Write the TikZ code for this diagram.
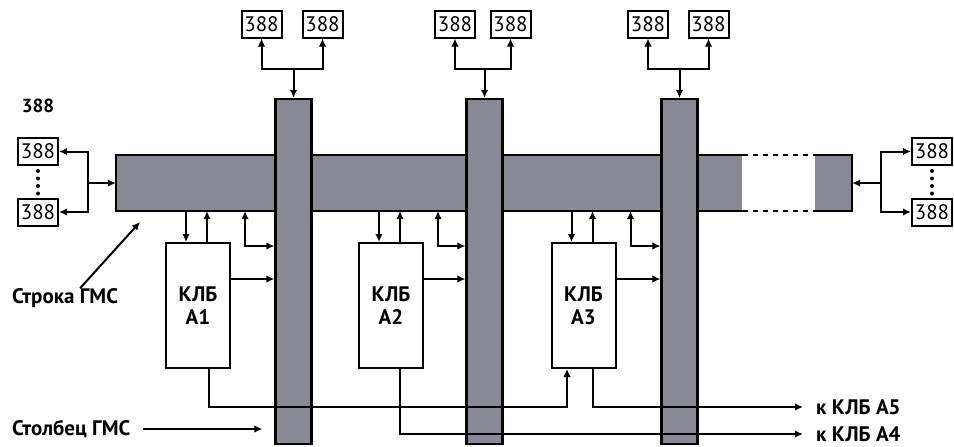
\documentclass[tikz,border=0pt]{standalone}
\usepackage{fontspec}
\setmainfont{PT Sans}
\usetikzlibrary{positioning}
\usetikzlibrary{arrows.meta}
\usetikzlibrary{calc}
\definecolor{gmsGris}{RGB}{136,137,147}
\tikzset{
  bus/.style={
    rectangle, fill=gmsGris, draw=black, line width=2.2pt, inner sep=0pt
  },
  klb/.style={
    rectangle, draw=black, fill=white, line width=2pt,
    minimum width=64pt, minimum height=125pt, align=center,
    font=\bfseries\fontsize{21}{23}\selectfont, inner sep=0pt
  },
  evv/.style={
    rectangle, draw=black, fill=white, line width=2pt,
    minimum width=40pt, minimum height=27pt, inner sep=0pt,
    font=\fontsize{21}{21}\selectfont
  },
  etiq/.style={font=\bfseries\fontsize{21}{23}\selectfont, inner sep=0pt},
  linea/.style={line width=2.2pt},
  flecha/.style={-{Latex[length=8pt,width=7.5pt]}, line width=2pt},
  flechad/.style={{Latex[length=8pt,width=7.5pt]}-{Latex[length=8pt,width=7.5pt]}, line width=2pt}
}

\begin{document}
\begin{tikzpicture}[x=1pt,y=-1pt]
  \useasboundingbox (0,0) rectangle (954,447);
  % строка ГМС
  \node[bus, draw=none, minimum width=625pt, minimum height=54pt] (fila) at (429.5,183) {};
  \node[bus, draw=none, minimum width=36pt, minimum height=54pt] (filab) at (833,183) {};
  \draw[linea] (fila.north east) -- (fila.north west) -- (fila.south west) -- (fila.south east);
  \draw[linea, dash pattern=on 5pt off 5pt] (fila.north east) -- (filab.north west);
  \draw[linea, dash pattern=on 5pt off 5pt] (fila.south east) -- (filab.south west);
  \draw[linea] (filab.north west) -- (filab.north east) -- (filab.south east) -- (filab.south west);
  % столбцы ГМС
  \node[bus, minimum width=36pt, minimum height=345pt] (col1) at (293.5,271.5) {};
  \node[bus, minimum width=36pt, minimum height=345pt] (col2) at (484.5,271.5) {};
  \node[bus, minimum width=36pt, minimum height=345pt] (col3) at (679.5,271.5) {};
  % верхние 388
  \node[evv] (e1a) at (261.5,24) {388};
  \node[evv] (e1b) at (322.5,24) {388};
  \node[evv] (e2a) at (455,24) {388};
  \node[evv] (e2b) at (510.5,24) {388};
  \node[evv] (e3a) at (648,24) {388};
  \node[evv] (e3b) at (708.5,24) {388};
  \draw[flecha] ($(col1.north)+(0,-29)$) coordinate (t1) -- (col1.north);
  \draw[flecha] (t1) -| (e1a.south);
  \draw[flecha] (t1) -| (e1b.south);
  \draw[flecha] ($(col2.north)+(0,-29)$) coordinate (t2) -- (col2.north);
  \draw[flecha] (t2) -| (e2a.south);
  \draw[flecha] (t2) -| (e2b.south);
  \draw[flecha] ($(col3.north)+(0,-29)$) coordinate (t3) -- (col3.north);
  \draw[flecha] (t3) -| (e3a.south);
  \draw[flecha] (t3) -| (e3b.south);
  % левые и правые 388
  \node[font=\bfseries\fontsize{19}{19}\selectfont, inner sep=0pt] (lab388) at (38,106) {388};
  \node[evv] (el1) at (38,151.5) {388};
  \node[evv] (el2) at (38,212) {388};
  \node[evv] (er1) at (932,151.5) {388};
  \node[evv] (er2) at (932,212) {388};
  \draw[line width=4pt, line cap=round, dash pattern=on 0pt off 7.5pt] ($(el1.south)+(0,5)$) -- (el2.north);
  \draw[line width=4pt, line cap=round, dash pattern=on 0pt off 7.5pt] ($(er1.south)+(0,5)$) -- (er2.north);
  \draw[flecha] ($(fila.west)+(-28,0)$) coordinate (izq) -- (fila.west);
  \draw[flecha] (izq) |- (el1.east);
  \draw[flecha] (izq) |- (el2.east);
  \draw[flecha] ($(filab.east)+(29,0)$) coordinate (der) -- (filab.east);
  \draw[flecha] (der) |- (er1.west);
  \draw[flecha] (der) |- (er2.west);
  % КЛБ
  \node[klb] (a1) at (198,305.5) {КЛБ\\А1};
  \node[klb] (a2) at (391,305.5) {КЛБ\\А2};
  \node[klb] (a3) at (583.5,305.5) {КЛБ\\А3};
  \foreach \b/\c in {a1/col1, a2/col2, a3/col3} {
    \coordinate (\b d) at ($(\b.north west)+(21,0)$);
    \coordinate (\b u) at ($(\b.north west)+(42,0)$);
    \coordinate (\b l) at ($(\b.north east)+(14,4)$);
    \coordinate (\b s) at ($(\b.north east)+(0,37)$);
    \draw[flecha] (\b d |- fila.south) -- (\b d);
    \draw[flecha] (\b u) -- (\b u |- fila.south);
    \draw[flechad] (\b l |- fila.south) -- (\b l) -- (\b l -| \c.west);
    \draw[flecha] (\b s) -- (\b s -| \c.west);
  }
  % подписи
  \node[etiq, anchor=west] (filalab) at (12,298) {Строка ГМС};
  \node[etiq, anchor=west] (colab) at (12,429) {Столбец ГМС};
  \node[etiq, anchor=west] (ka5) at (816,407) {к КЛБ А5};
  \node[etiq, anchor=west] (ka4) at (816,434) {к КЛБ А4};
  \coordinate (pfila) at (140,222);
  \draw[flecha] ($(filalab.north)+(15,0)$) -- (pfila);
  \draw[flecha] ($(colab.east)+(12,0)$) -- ($(col1.west |- colab.east)+(-12,0)$);
  % выходы КЛБ
  \coordinate (a1o) at ($(a1.south)+(11,0)$);
  \coordinate (a2o) at ($(a2.south)+(9,0)$);
  \coordinate (a3o) at ($(a3.south)+(9.5,0)$);
  \coordinate (a3i) at ($(a3.south)+(-16.5,0)$);
  \draw[flecha] (a1o) |- (a3i |- ka5.west) -- (a3i);
  \draw[flecha] (a3o) |- ($(ka5.west)+(-13,0)$);
  \draw[flecha] (a2o) |- ($(ka4.west)+(-13,0)$);
\end{tikzpicture}
\end{document}
